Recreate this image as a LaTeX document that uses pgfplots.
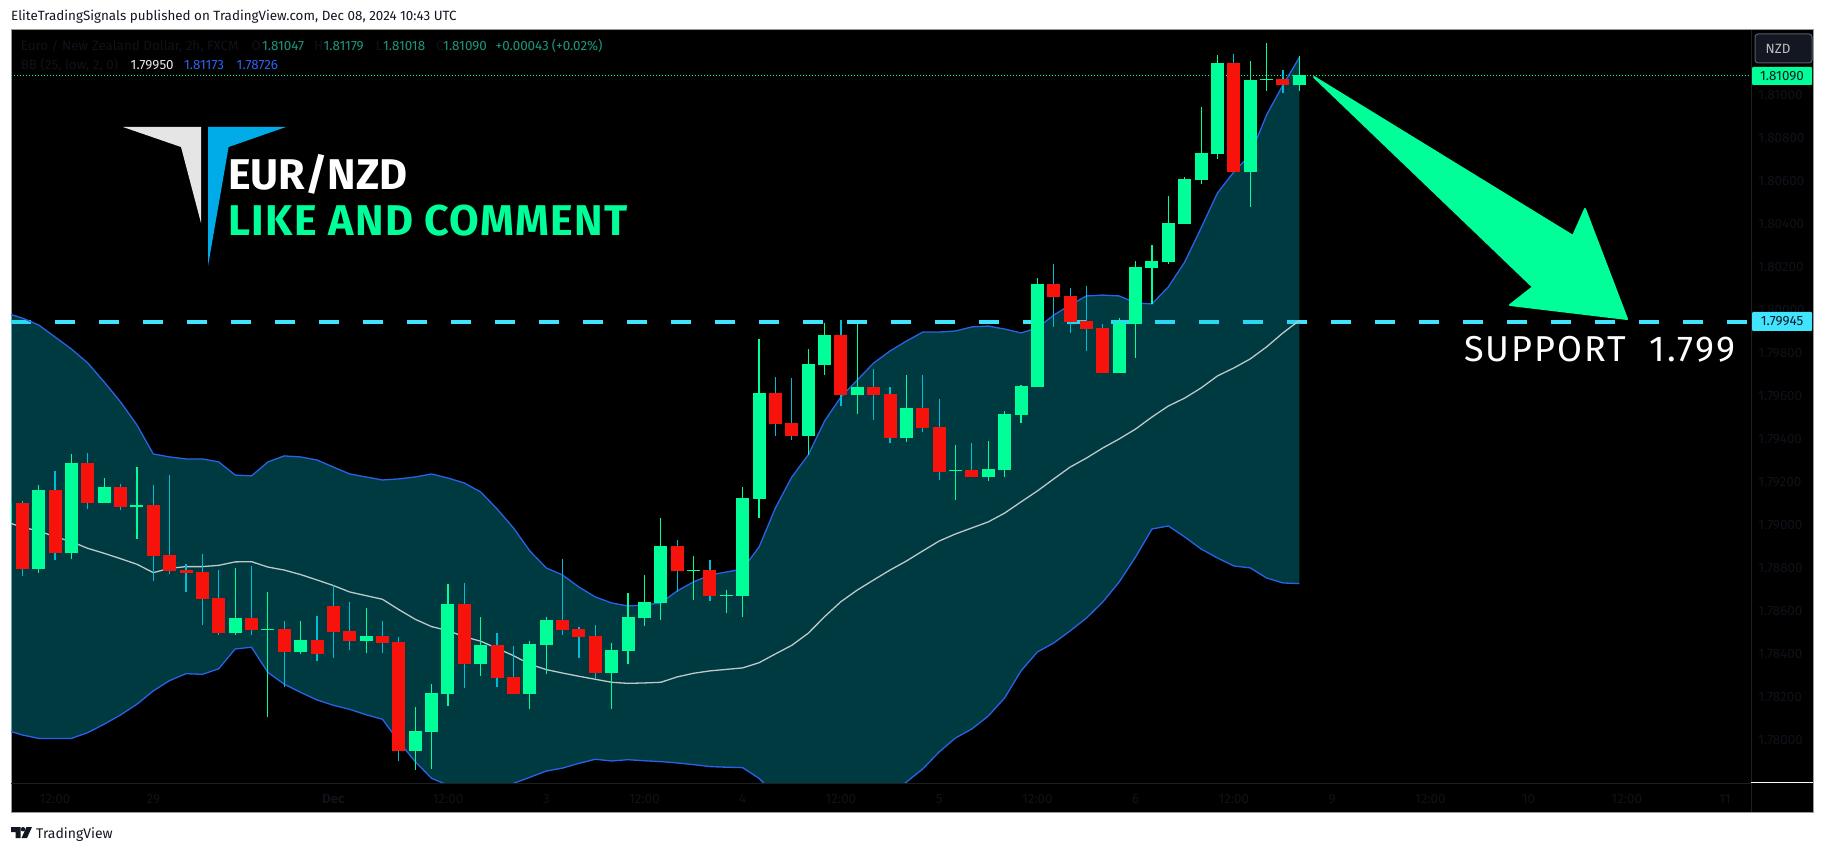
\documentclass[border=0pt]{standalone}
\usepackage{fontspec}
\setmainfont{Fira Sans}
\usepackage{pgfplots}
\usepackage{pgfplotstable}
\pgfplotsset{compat=1.18}
\definecolor{cgreen}{RGB}{0,255,153}
\definecolor{cred}{RGB}{247,18,12}
\definecolor{cwick}{RGB}{0,188,212}
\definecolor{cband}{RGB}{0,188,212}
\definecolor{cblue}{RGB}{41,98,230}
\definecolor{cmid}{RGB}{190,200,200}
\definecolor{ccyan}{RGB}{64,228,255}
\definecolor{cdark}{RGB}{16,18,25}
\definecolor{cink}{RGB}{19,23,34}
\definecolor{cteal}{RGB}{28,150,125}
\definecolor{cbval}{RGB}{48,96,240}
\definecolor{clogo}{RGB}{0,172,232}

\pgfplotstableread{
i top bot hi lo
0 1.79101 1.78794 1.79110 1.78761
2 1.79161 1.78868 1.79250 1.78836
4 1.79287 1.79101 1.79334 1.79073
6 1.79175 1.79082 1.79189 1.79068
8 1.79092 1.78854 1.79185 1.78738
9 1.78859 1.78785 1.79231 1.78771
10 1.78789 1.78775 1.78817 1.78687
11 1.78780 1.78654 1.78864 1.78534
12 1.78659 1.78496 1.78789 1.78487
14 1.78566 1.78510 1.78808 1.78487
16 1.78515 1.78408 1.78552 1.78245
18 1.78464 1.78399 1.78575 1.78366
19 1.78622 1.78501 1.78720 1.78380
20 1.78506 1.78459 1.78640 1.78417
22 1.78482 1.78450 1.78552 1.78403
23 1.78454 1.77948 1.78478 1.77901
27 1.78631 1.78352 1.78729 1.78241
29 1.78441 1.78287 1.78496 1.78245
30 1.78292 1.78213 1.78436 1.78213
33 1.78557 1.78510 1.78841 1.78487
34 1.78515 1.78478 1.78524 1.78380
35 1.78482 1.78310 1.78534 1.78282
40 1.78901 1.78785 1.78929 1.78687
42 1.78789 1.78668 1.78836 1.78645
46 1.79613 1.79468 1.79687 1.79413
47 1.79473 1.79413 1.79682 1.79394
50 1.79882 1.79603 1.79952 1.79552
52 1.79640 1.79603 1.79724 1.79487
53 1.79608 1.79403 1.79640 1.79380
55 1.79543 1.79450 1.79696 1.79431
56 1.79455 1.79245 1.79585 1.79208
58 1.79254 1.79222 1.79380 1.79222
63 1.80120 1.80059 1.80213 1.79920
64 1.80064 1.79943 1.80101 1.79892
65 1.79947 1.79910 1.80110 1.79808
66 1.79915 1.79706 1.79934 1.79706
74 1.81148 1.80641 1.81189 1.80641
77 1.81073 1.81045 1.81115 1.81008
}\redtbl

\pgfplotstableread{
i top bot hi lo
-1 1.79101 1.79013 1.79101 1.79013
1 1.79161 1.78794 1.79185 1.78775
3 1.79287 1.78868 1.79329 1.78841
5 1.79175 1.79101 1.79217 1.79101
7 1.79092 1.79082 1.79268 1.78934
13 1.78566 1.78496 1.78799 1.78487
15 1.78515 1.78510 1.78687 1.78106
17 1.78464 1.78408 1.78552 1.78399
21 1.78482 1.78459 1.78613 1.78403
24 1.78041 1.77948 1.78152 1.77859
25 1.78217 1.78036 1.78259 1.77864
26 1.78631 1.78213 1.78724 1.78157
28 1.78441 1.78352 1.78571 1.78296
31 1.78445 1.78213 1.78459 1.78143
32 1.78557 1.78441 1.78571 1.78306
36 1.78417 1.78310 1.78450 1.78143
37 1.78571 1.78413 1.78682 1.78352
38 1.78640 1.78566 1.78766 1.78529
39 1.78901 1.78636 1.79031 1.78557
41 1.78789 1.78785 1.78854 1.78650
43 1.78673 1.78668 1.78696 1.78589
44 1.79124 1.78668 1.79175 1.78571
45 1.79613 1.79120 1.79864 1.79031
48 1.79748 1.79413 1.79817 1.79324
49 1.79882 1.79743 1.79938 1.79696
51 1.79640 1.79603 1.79934 1.79515
54 1.79543 1.79403 1.79696 1.79385
57 1.79254 1.79250 1.79371 1.79115
59 1.79259 1.79222 1.79389 1.79203
60 1.79515 1.79254 1.79529 1.79222
61 1.79645 1.79510 1.79650 1.79473
62 1.80120 1.79640 1.80148 1.79640
67 1.79938 1.79706 1.79961 1.79706
68 1.80199 1.79934 1.80227 1.79775
69 1.80227 1.80194 1.80301 1.80027
70 1.80403 1.80222 1.80529 1.80213
71 1.80608 1.80399 1.80617 1.80399
72 1.80729 1.80603 1.80943 1.80585
73 1.81148 1.80724 1.81185 1.80701
75 1.81068 1.80641 1.81157 1.80478
76 1.81073 1.81068 1.81241 1.81017
78 1.81090 1.81047 1.81179 1.81018
}\greentbl

\pgfplotstableread{
i up mid lo
-1 1.79985 1.79014 1.78045
0 1.79961 1.78988 1.78022
1 1.79929 1.78971 1.78006
2 1.79873 1.78944 1.78006
3 1.79817 1.78921 1.78006
4 1.79752 1.78890 1.78033
5 1.79664 1.78867 1.78072
6 1.79571 1.78842 1.78115
7 1.79464 1.78816 1.78165
8 1.79329 1.78777 1.78227
9 1.79315 1.78797 1.78275
10 1.79306 1.78805 1.78307
11 1.79306 1.78805 1.78304
12 1.79292 1.78811 1.78330
13 1.79231 1.78827 1.78422
14 1.79227 1.78828 1.78430
15 1.79292 1.78803 1.78313
16 1.79320 1.78789 1.78258
17 1.79315 1.78768 1.78220
18 1.79301 1.78743 1.78185
19 1.79268 1.78717 1.78160
20 1.79236 1.78687 1.78141
21 1.79222 1.78670 1.78116
22 1.79208 1.78653 1.78095
23 1.79213 1.78605 1.77991
24 1.79222 1.78560 1.77898
25 1.79236 1.78526 1.77820
26 1.79217 1.78507 1.77789
27 1.79194 1.78479 1.77774
28 1.79152 1.78458 1.77758
29 1.79073 1.78425 1.77774
30 1.78985 1.78391 1.77797
31 1.78878 1.78351 1.77825
32 1.78799 1.78326 1.77854
33 1.78766 1.78310 1.77868
34 1.78710 1.78295 1.77890
35 1.78664 1.78281 1.77909
36 1.78636 1.78267 1.77901
37 1.78622 1.78262 1.77907
38 1.78627 1.78264 1.77902
39 1.78636 1.78267 1.77898
40 1.78692 1.78292 1.77892
41 1.78734 1.78309 1.77884
42 1.78766 1.78320 1.77875
43 1.78780 1.78327 1.77872
44 1.78794 1.78334 1.77870
45 1.78896 1.78358 1.77820
46 1.79078 1.78399 1.77743
47 1.79222 1.78439 1.77673
48 1.79324 1.78495 1.77636
49 1.79482 1.78572 1.77608
50 1.79594 1.78642 1.77603
51 1.79673 1.78696 1.77650
52 1.79752 1.78743 1.77696
53 1.79808 1.78789 1.77743
54 1.79854 1.78831 1.77803
55 1.79896 1.78878 1.77864
56 1.79896 1.78924 1.77943
57 1.79901 1.78957 1.78008
58 1.79920 1.78985 1.78050
59 1.79924 1.79013 1.78110
60 1.79910 1.79054 1.78194
61 1.79892 1.79106 1.78320
62 1.79915 1.79157 1.78408
63 1.79975 1.79213 1.78450
64 1.80022 1.79268 1.78506
65 1.80064 1.79310 1.78566
66 1.80068 1.79357 1.78641
67 1.80064 1.79399 1.78734
68 1.80031 1.79445 1.78850
69 1.80027 1.79501 1.78980
70 1.80106 1.79552 1.78994
71 1.80222 1.79589 1.78943
72 1.80380 1.79636 1.78887
73 1.80543 1.79692 1.78845
74 1.80641 1.79729 1.78808
75 1.80720 1.79771 1.78799
76 1.80906 1.79827 1.78752
77 1.81045 1.79892 1.78729
78 1.81173 1.79950 1.78726
}\bandtbl

\tikzset{px/.style={x=1pt,y=-1pt,shift={(0pt,852pt)}}}
\newcommand{\fs}[1]{\fontsize{#1}{#1}\selectfont}

\begin{document}
\begin{tikzpicture}
\useasboundingbox (0pt,0pt) rectangle (1825pt,852pt);
\fill[white] (0pt,0pt) rectangle (1825pt,852pt);
\begin{scope}[px]
\draw[fill=black,draw=black!40!white,line width=1pt] (11,30) rectangle (1813.5,812);
\end{scope}

\begin{axis}[
  at={(11pt,69pt)}, anchor=south west,
  scale only axis, width=1740.7pt, height=753pt,
  xmin=-0.69, xmax=105.63, ymin=1.777986, ymax=1.813009,
  axis line style={draw=none}, major tick length=0pt,
  tick style={draw=none},
  xtick={2,8,19,26,32,38,44,50,56,62,68,74,80,86,92,98,104},
  xticklabels={12:00,29,\textbf{Dec},12:00,3,12:00,4,12:00,5,12:00,6,12:00,9,12:00,10,12:00,11},
  ytick={1.78,1.782,1.784,1.786,1.788,1.79,1.792,1.794,1.796,1.798,1.80,1.802,1.804,1.806,1.808,1.81},
  yticklabels={1.78000,1.78200,1.78400,1.78600,1.78800,1.79000,1.79200,1.79400,1.79600,1.79800,1.80000,1.80200,1.80400,1.80600,1.80800,1.81000},
  yticklabel pos=right,
  tick label style={text=cdark,font=\fs{13.4}},
  x tick label style={anchor=north,yshift=-8pt},
  y tick label style={anchor=west,xshift=3pt},
]
\addplot[forget plot,ccyan,line width=4pt,dash pattern=on 20pt off 24pt] coordinates {(-0.69,1.79945)(105.63,1.79945)};
\addplot[forget plot,cgreen,line width=1pt,dash pattern=on 1pt off 2pt] coordinates {(-0.69,1.8109)(105.63,1.8109)};
% band: upper edge left to right, then lower edge right to left
\addplot[forget plot,draw=none,fill=cband,fill opacity=0.31] coordinates {
(-1,1.79985)(0,1.79961)(1,1.79929)(2,1.79873)(3,1.79817)(4,1.79752)(5,1.79664)(6,1.79571)(7,1.79464)(8,1.79329)
(9,1.79315)(10,1.79306)(11,1.79306)(12,1.79292)(13,1.79231)(14,1.79227)(15,1.79292)(16,1.79320)(17,1.79315)(18,1.79301)
(19,1.79268)(20,1.79236)(21,1.79222)(22,1.79208)(23,1.79213)(24,1.79222)(25,1.79236)(26,1.79217)(27,1.79194)(28,1.79152)
(29,1.79073)(30,1.78985)(31,1.78878)(32,1.78799)(33,1.78766)(34,1.78710)(35,1.78664)(36,1.78636)(37,1.78622)(38,1.78627)
(39,1.78636)(40,1.78692)(41,1.78734)(42,1.78766)(43,1.78780)(44,1.78794)(45,1.78896)(46,1.79078)(47,1.79222)(48,1.79324)
(49,1.79482)(50,1.79594)(51,1.79673)(52,1.79752)(53,1.79808)(54,1.79854)(55,1.79896)(56,1.79896)(57,1.79901)(58,1.79920)
(59,1.79924)(60,1.79910)(61,1.79892)(62,1.79915)(63,1.79975)(64,1.80022)(65,1.80064)(66,1.80068)(67,1.80064)(68,1.80031)
(69,1.80027)(70,1.80106)(71,1.80222)(72,1.80380)(73,1.80543)(74,1.80641)(75,1.80720)(76,1.80906)(77,1.81045)(78,1.81173)
(78,1.78726)(77,1.78729)(76,1.78752)(75,1.78799)(74,1.78808)(73,1.78845)(72,1.78887)(71,1.78943)(70,1.78994)(69,1.78980)
(68,1.78850)(67,1.78734)(66,1.78641)(65,1.78566)(64,1.78506)(63,1.78450)(62,1.78408)(61,1.78320)(60,1.78194)(59,1.78110)
(58,1.78050)(57,1.78008)(56,1.77943)(55,1.77864)(54,1.77803)(53,1.77743)(52,1.77696)(51,1.77650)(50,1.77603)(49,1.77608)
(48,1.77636)(47,1.77673)(46,1.77743)(45,1.77820)(44,1.77870)(43,1.77872)(42,1.77875)(41,1.77884)(40,1.77892)(39,1.77898)
(38,1.77902)(37,1.77907)(36,1.77901)(35,1.77909)(34,1.77890)(33,1.77868)(32,1.77854)(31,1.77825)(30,1.77797)(29,1.77774)
(28,1.77758)(27,1.77774)(26,1.77789)(25,1.77820)(24,1.77898)(23,1.77991)(22,1.78095)(21,1.78116)(20,1.78141)(19,1.78160)
(18,1.78185)(17,1.78220)(16,1.78258)(15,1.78313)(14,1.78430)(13,1.78422)(12,1.78330)(11,1.78304)(10,1.78307)(9,1.78275)
(8,1.78227)(7,1.78165)(6,1.78115)(5,1.78072)(4,1.78033)(3,1.78006)(2,1.78006)(1,1.78006)(0,1.78022)(-1,1.78045)
} -- cycle;
\addplot[forget plot,cblue,line width=1.3pt] table[x=i,y=up] {\bandtbl};
\addplot[forget plot,cblue,line width=1.3pt] table[x=i,y=lo] {\bandtbl};
\addplot[forget plot,cmid,line width=1.3pt] table[x=i,y=mid] {\bandtbl};
% wicks
\addplot[forget plot,draw=none,mark=none,error bars/.cd,y dir=both,y explicit,error mark=none,
  error bar style={draw=cwick,line width=1.2pt}]
  table[x=i,y=top,y error plus expr=\thisrow{hi}-\thisrow{top},y error minus expr=\thisrow{top}-\thisrow{lo}] {\redtbl};
\addplot[forget plot,draw=none,mark=none,error bars/.cd,y dir=both,y explicit,error mark=none,
  error bar style={draw=cgreen,line width=1.2pt}]
  table[x=i,y=top,y error plus expr=\thisrow{hi}-\thisrow{top},y error minus expr=\thisrow{top}-\thisrow{lo}] {\greentbl};
% bodies
\addplot[forget plot,draw=none,mark=none,error bars/.cd,y dir=minus,y explicit,error mark=none,
  error bar style={draw=cred,line width=13pt}]
  table[x=i,y=top,y error minus expr=\thisrow{top}-\thisrow{bot}] {\redtbl};
\addplot[forget plot,draw=none,mark=none,error bars/.cd,y dir=minus,y explicit,error mark=none,
  error bar style={draw=cgreen,line width=13pt}]
  table[x=i,y=top,y error minus expr=\thisrow{top}-\thisrow{bot}] {\greentbl};
\end{axis}

\begin{scope}[px]
% separators
\draw[color=black!88!white,line width=.6pt] (1751.5,30) -- (1751.5,812);
\draw[color=black!88!white,line width=.6pt] (11,783) -- (1751.5,783);
\draw[white,line width=1pt] (1751,782) -- (1813,782);
% logo
\fill[black!10!white] (123,127) -- (201,127) -- (201,223) -- (181,147) -- cycle;
\fill[clogo] (208,127) -- (286,127) -- (228.6,147) -- (208,266) -- cycle;
% big text
\node[anchor=base west,inner sep=0,white,font=\fs{43}\bfseries] at (228,190) {EUR/NZD};
\node[anchor=base west,inner sep=0,cgreen,font=\fs{43}\bfseries] at (228,236) {\addfontfeature{LetterSpace=3.2}LIKE AND COMMENT};
\node[anchor=base west,inner sep=0,white,font=\fs{36}] at (1464,362) {\addfontfeature{LetterSpace=5.7}SUPPORT\ \ 1.799};
% arrow
\fill[cgreen,draw=cgreen,line width=2pt,line join=round]
  (1314,77) -- (1573,236) -- (1585,209) -- (1627,319) -- (1510,305) -- (1533,287) -- cycle;
% header
\node[anchor=base west,inner sep=0,cink,font=\fs{13.4}] at (11,20.5) {EliteTradingSignals published on TradingView.com, Dec 08, 2024 10:43 UTC};
% legend rows
\begin{scope}[every node/.style={anchor=base west,inner sep=0,font=\fs{13.4}}]
\node[text=cdark] at (20.6,51) {Euro / New Zealand Dollar, 2h, FXCM};
\node[text=cdark] at (251.5,51) {O}; \node[text=cteal] at (261.8,51) {1.81047};
\node[text=cdark] at (314,51) {H}; \node[text=cteal] at (323.4,51) {1.81179};
\node[text=cdark] at (375.6,51) {L}; \node[text=cteal] at (382.8,51) {1.81018};
\node[text=cdark] at (436,51) {C}; \node[text=cteal] at (443,51) {1.81090};
\node[text=cteal] at (495.5,51) {+0.00043};
\node[text=cteal] at (551.6,51) {(+0.02\%)};
\node[text=cdark] at (20.6,70) {BB (25, low, 2, 0)};
\node[text=white!90!black] at (130.5,70) {1.79950};
\node[text=cbval] at (183.9,70) {1.81173};
\node[text=cbval] at (236.5,70) {1.78726};
\end{scope}
% NZD button
\draw[fill=cink,draw=cink!70!white,line width=1pt,rounded corners=3pt] (1755,34) rectangle (1812,63);
\node[text=black!25!white,font=\fs{13.4},inner sep=0] at (1778,49) {NZD};
% price tags
\fill[cgreen,rounded corners=1pt] (1752,67) rectangle (1812,85);
\node[text=cink,font=\fs{13.4},inner sep=0] at (1782,76) {1.81090};
\fill[ccyan,rounded corners=1pt] (1752,312) rectangle (1812,331);
\node[text=cink,font=\fs{13.4},inner sep=0] at (1782,321.5) {1.79945};
% TradingView mark
\fill[cink] (11,827) -- (20.5,827) -- (20.5,838) -- (15.5,838) -- (15.5,832) -- (11,832) -- cycle;
\fill[cink] (23,829.2) circle (2.2);
\fill[cink] (26.5,827) -- (32,827) -- (27,838) -- (21.5,838) -- cycle;
\node[anchor=base west,inner sep=0,cink,font=\fs{14}] at (36,838) {TradingView};
\end{scope}
\end{tikzpicture}
\end{document}
